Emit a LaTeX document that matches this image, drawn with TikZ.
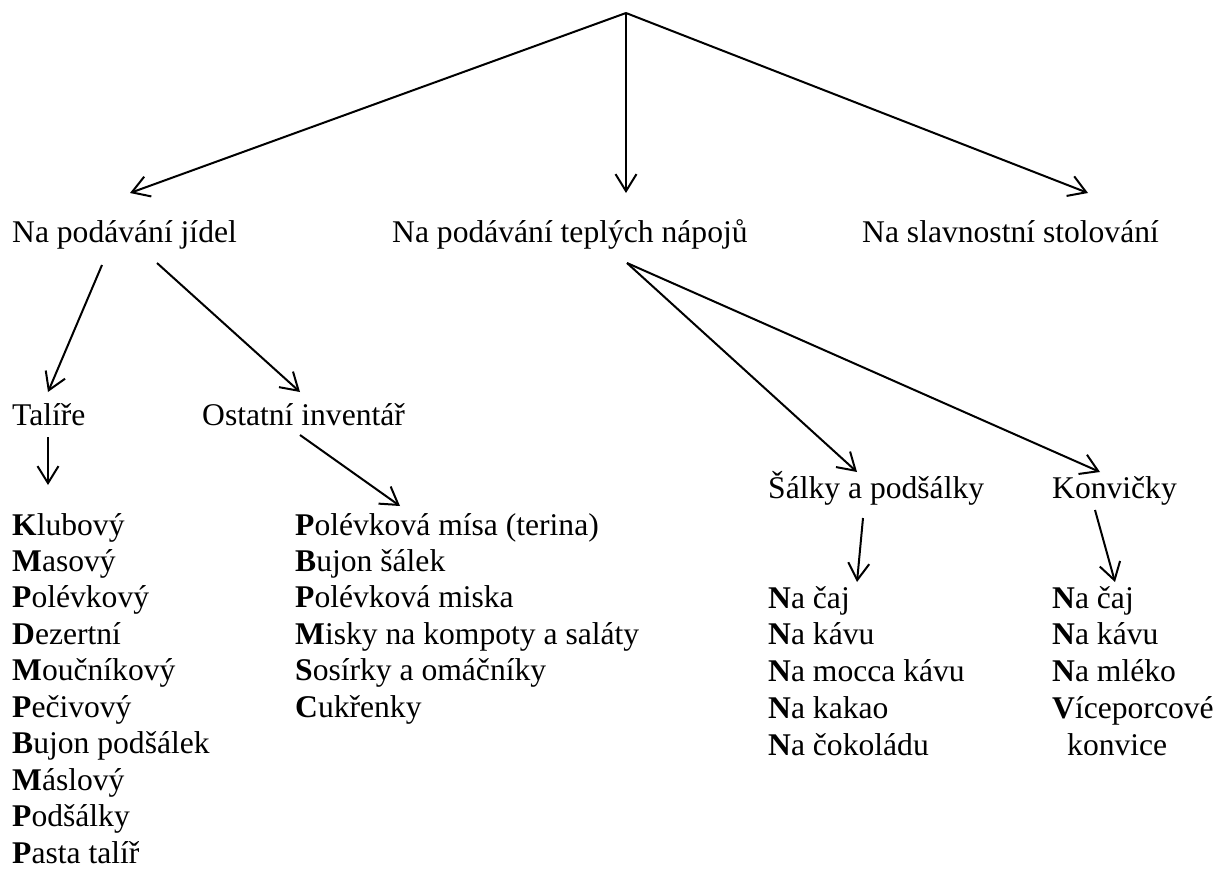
\documentclass[tikz,border=0pt]{standalone}
\usepackage{fontspec}
\setmainfont{Liberation Serif}
\usetikzlibrary{arrows.meta}
\begin{document}
\begin{tikzpicture}[x=1pt,y=-1pt,
  lbl/.style={anchor=base west,inner sep=0pt,font=\fontsize{31.6}{36.5}\selectfont},
  arr/.style={-{Straight Barb[length=17pt,width=21pt,line width=2pt]},line width=2pt,line join=round}]
\useasboundingbox (0,0) rectangle (1217,868);
\coordinate (root) at (626,13);
% level 1
\node[lbl] (jidel) at (12,242) {Na podávání jídel};
\node[lbl] (teple) at (392,242) {Na podávání teplých nápojů};
\node[lbl] (slav) at (862,242) {Na slavnostní stolování};
% level 2
\node[lbl] (talire) at (12,425) {Talíře};
\node[lbl] (ostatni) at (202,425) {Ostatní inventář};
\node[lbl] (salky) at (768,498) {Šálky a podšálky};
\node[lbl] (konv) at (1052,498) {Konvičky};
% lists
\foreach \t [count=\i from 0] in {{\textbf{K}lubový},{\textbf{M}asový},{\textbf{P}olévkový},{\textbf{D}ezertní},{\textbf{M}oučníkový},{\textbf{P}ečivový},{\textbf{B}ujon podšálek},{\textbf{M}áslový},{\textbf{P}odšálky},{\textbf{P}asta talíř}}
  \node[lbl] (a\i) at (12,535+36.45*\i) {\t};
\foreach \t [count=\i from 0] in {{\textbf{P}olévková mísa (terina)},{\textbf{B}ujon šálek},{\textbf{P}olévková miska},{\textbf{M}isky na kompoty a saláty},{\textbf{S}osírky a omáčníky},{\textbf{C}ukřenky}}
  \node[lbl] (b\i) at (295,535+36.45*\i) {\t};
\foreach \t [count=\i from 0] in {{\textbf{N}a čaj},{\textbf{N}a kávu},{\textbf{N}a mocca kávu},{\textbf{N}a kakao},{\textbf{N}a čokoládu}}
  \node[lbl] (c\i) at (768,608+36.75*\i) {\t};
\foreach \t [count=\i from 0] in {{\textbf{N}a čaj},{\textbf{N}a kávu},{\textbf{N}a mléko},{\textbf{V}íceporcové}}
  \node[lbl] (d\i) at (1052,608+36.75*\i) {\t};
\node[lbl] (d4) at (1067,755) {konvice};
% connectors
\draw[arr] (root) -- ([shift={(118,-49)}]jidel.base west);
\draw[arr] (root) -- ([shift={(234,-49)}]teple.base west);
\draw[arr] (root) -- ([shift={(226,-49)}]slav.base west);
\draw[arr] ([shift={(90,23)}]jidel.base west) -- ([shift={(36,-33)}]talire.base west);
\draw[arr] ([shift={(145,21)}]jidel.base west) -- ([shift={(98,-33)}]ostatni.base west);
\draw[arr] ([shift={(36,12)}]talire.base west) -- ([shift={(36,-50)}]a0.base west);
\draw[arr] ([shift={(98,10)}]ostatni.base west) -- ([shift={(105,-29)}]b0.base west);
\draw[arr] ([shift={(235,21)}]teple.base west) -- ([shift={(89,-26)}]salky.base west);
\draw[arr] ([shift={(235,21)}]teple.base west) -- ([shift={(48,-26)}]konv.base west);
\draw[arr] ([shift={(95,20)}]salky.base west) -- ([shift={(89,-26)}]c0.base west);
\draw[arr] ([shift={(43,12)}]konv.base west) -- ([shift={(63,-26)}]d0.base west);
\end{tikzpicture}
\end{document}
